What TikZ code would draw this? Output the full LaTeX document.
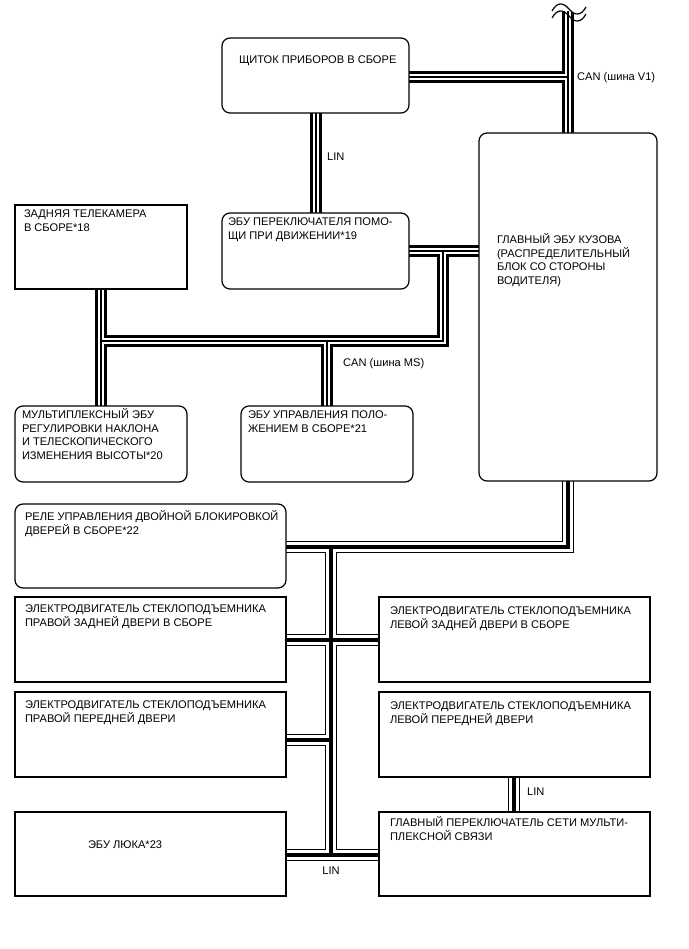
\documentclass[tikz,border=0pt]{standalone}
\usepackage{fontspec}
\setmainfont{Liberation Sans}
\usetikzlibrary{backgrounds}
\newcommand\tp{\rule{0pt}{10.5pt}}
\begin{document}
\begin{tikzpicture}[x=1pt,y=-1pt,
 box/.style={draw=black, line width=1.2pt, fill=white, anchor=north west, inner sep=0pt, outer sep=0pt},
 rbox/.style={box, rounded corners=8pt},
 txt/.style={anchor=north west, inner sep=0pt, outer sep=0pt, align=left, font=\fontsize{11.1}{13.6}\selectfont},
 lbl/.style={anchor=base west, inner sep=0pt, font=\fontsize{11.1}{13}\selectfont},
 outA/.style={line width=12.5pt, line join=miter, black},
 midA/.style={line width=6.5pt, line join=miter, white},
 coreA/.style={line width=1.3pt, line join=miter, black},
 outB/.style={line width=12pt, line join=miter, black},
 midB/.style={line width=9.6pt, line join=miter, white},
 coreB/.style={line width=4pt, line join=miter, black},
 wave/.style={line width=1.2pt, black},
]
\useasboundingbox (0,0) rectangle (688,949);

% boxes
\node[rbox, minimum width=187pt, minimum height=75pt] (cluster) at (222,38) {};
\node[box,  minimum width=172pt, minimum height=84pt] (cam) at (15,205) {};
\node[rbox, minimum width=187pt, minimum height=76pt] (sw) at (222,213) {};
\node[rbox, minimum width=178pt, minimum height=348pt] (body) at (479,133) {};
\node[rbox, minimum width=172pt, minimum height=76pt] (tilt) at (15,406) {};
\node[rbox, minimum width=172pt, minimum height=76pt] (pos) at (241,406) {};
\node[rbox, minimum width=271pt, minimum height=84pt] (relay) at (15,504) {};
\node[box,  minimum width=271pt, minimum height=85pt] (rr) at (15,597) {};
\node[box,  minimum width=271pt, minimum height=85pt] (rf) at (15,692) {};
\node[box,  minimum width=271pt, minimum height=84pt] (sun) at (15,812) {};
\node[box,  minimum width=271pt, minimum height=85pt] (lr) at (379,597) {};
\node[box,  minimum width=271pt, minimum height=85pt] (lf) at (379,692) {};
\node[box,  minimum width=271pt, minimum height=84pt] (msw) at (379,812) {};

% texts
\node[txt] (tcluster) at (239,53) {\tp ЩИТОК ПРИБОРОВ В СБОРЕ};
\node[txt] (tcam) at (24,207) {\tp ЗАДНЯЯ ТЕЛЕКАМЕРА\\В СБОРЕ*18};
\node[txt] (tsw) at (228,215) {\tp ЭБУ ПЕРЕКЛЮЧАТЕЛЯ ПОМО-\\ЩИ ПРИ ДВИЖЕНИИ*19};
\node[txt] (tbody) at (497,233) {\tp ГЛАВНЫЙ ЭБУ КУЗОВА\\(РАСПРЕДЕЛИТЕЛЬНЫЙ\\БЛОК СО СТОРОНЫ\\ВОДИТЕЛЯ)};
\node[txt] (ttilt) at (22,408) {\tp МУЛЬТИПЛЕКСНЫЙ ЭБУ\\РЕГУЛИРОВКИ НАКЛОНА\\И ТЕЛЕСКОПИЧЕСКОГО\\ИЗМЕНЕНИЯ ВЫСОТЫ*20};
\node[txt] (tpos) at (248,408) {\tp ЭБУ УПРАВЛЕНИЯ ПОЛО-\\ЖЕНИЕМ В СБОРЕ*21};
\node[txt] (trelay) at (25,510) {\tp РЕЛЕ УПРАВЛЕНИЯ ДВОЙНОЙ БЛОКИРОВКОЙ\\ДВЕРЕЙ В СБОРЕ*22};
\node[txt] (trr) at (25,602) {\tp ЭЛЕКТРОДВИГАТЕЛЬ СТЕКЛОПОДЪЕМНИКА\\ПРАВОЙ ЗАДНЕЙ ДВЕРИ В СБОРЕ};
\node[txt] (trf) at (25,698) {\tp ЭЛЕКТРОДВИГАТЕЛЬ СТЕКЛОПОДЪЕМНИКА\\ПРАВОЙ ПЕРЕДНЕЙ ДВЕРИ};
\node[txt] (tsun) at (88,838) {\tp ЭБУ ЛЮКА*23};
\node[txt] (tlr) at (390,604) {\tp ЭЛЕКТРОДВИГАТЕЛЬ СТЕКЛОПОДЪЕМНИКА\\ЛЕВОЙ ЗАДНЕЙ ДВЕРИ В СБОРЕ};
\node[txt] (tlf) at (390,699) {\tp ЭЛЕКТРОДВИГАТЕЛЬ СТЕКЛОПОДЪЕМНИКА\\ЛЕВОЙ ПЕРЕДНЕЙ ДВЕРИ};
\node[txt] (tmsw) at (390,816) {\tp ГЛАВНЫЙ ПЕРЕКЛЮЧАТЕЛЬ СЕТИ МУЛЬТИ-\\ПЛЕКСНОЙ СВЯЗИ};

% bus labels
\node[lbl] (lcanv1) at (577,81) {CAN (шина V1)};
\node[lbl] (llin1) at (327,161) {LIN};
\node[lbl] (lcanms) at (343,366) {CAN (шина MS)};
\node[lbl] (llin2) at (527,795) {LIN};
\node[lbl, anchor=base] (llin3) at (331,874) {LIN};

% junction coordinates
\coordinate (v1top) at (568,11);
\coordinate (v1) at (568,77);
\coordinate (l1) at (316,160);
\coordinate (ms) at (443,251);
\coordinate (msc) at (443,341);
\coordinate (cx) at (101,341);
\coordinate (px) at (327,341);
\coordinate (lc) at (568,547);
\coordinate (lj) at (331,547);
\coordinate (lb) at (331,855);
\coordinate (lrr) at (331,640);
\coordinate (lrf) at (331,740);
\coordinate (lin2) at (514,795);

\def\busA{(v1top) -- (v1 |- body.north)
  (cluster.east |- v1) -- (v1)
  (l1 |- cluster.south) -- (l1 |- sw.north)
  (sw.east |- ms) -- (body.west |- ms)
  (ms) -- (msc) -- (cx)
  (cx |- cam.south) -- (cx |- tilt.north)
  (px) -- (px |- pos.north)}
\def\busB{(lc |- body.south) -- (lc) -- (relay.east |- lc)
  (lj) -- (lb)
  (rr.east |- lrr) -- (lr.west |- lrr)
  (rf.east |- lrf) -- (lrf)
  (sun.east |- lb) -- (msw.west |- lb)
  (lin2 |- lf.south) -- (lin2 |- msw.north)}

\begin{pgfonlayer}{background}
\fill[white] (0,0) rectangle (688,949);
\draw[outA] \busA;
\draw[midA] \busA;
\draw[coreA] \busA;
\draw[outB] \busB;
\draw[midB] \busB;
\draw[coreB] \busB;
\end{pgfonlayer}

% break mark at the top of the CAN V1 line
\fill[white] (552,11) .. controls (557,2) and (563,2) .. (569,9) .. controls (575,16) and (581,16) .. (586,7) -- (586,0) -- (552,0) -- cycle;
\draw[wave] (552,11) .. controls (557,2) and (563,2) .. (569,9) .. controls (575,16) and (581,16) .. (586,7);
\draw[wave] (552,18) .. controls (557,9) and (563,9) .. (569,16) .. controls (575,23) and (581,23) .. (586,14);
\end{tikzpicture}
\end{document}
